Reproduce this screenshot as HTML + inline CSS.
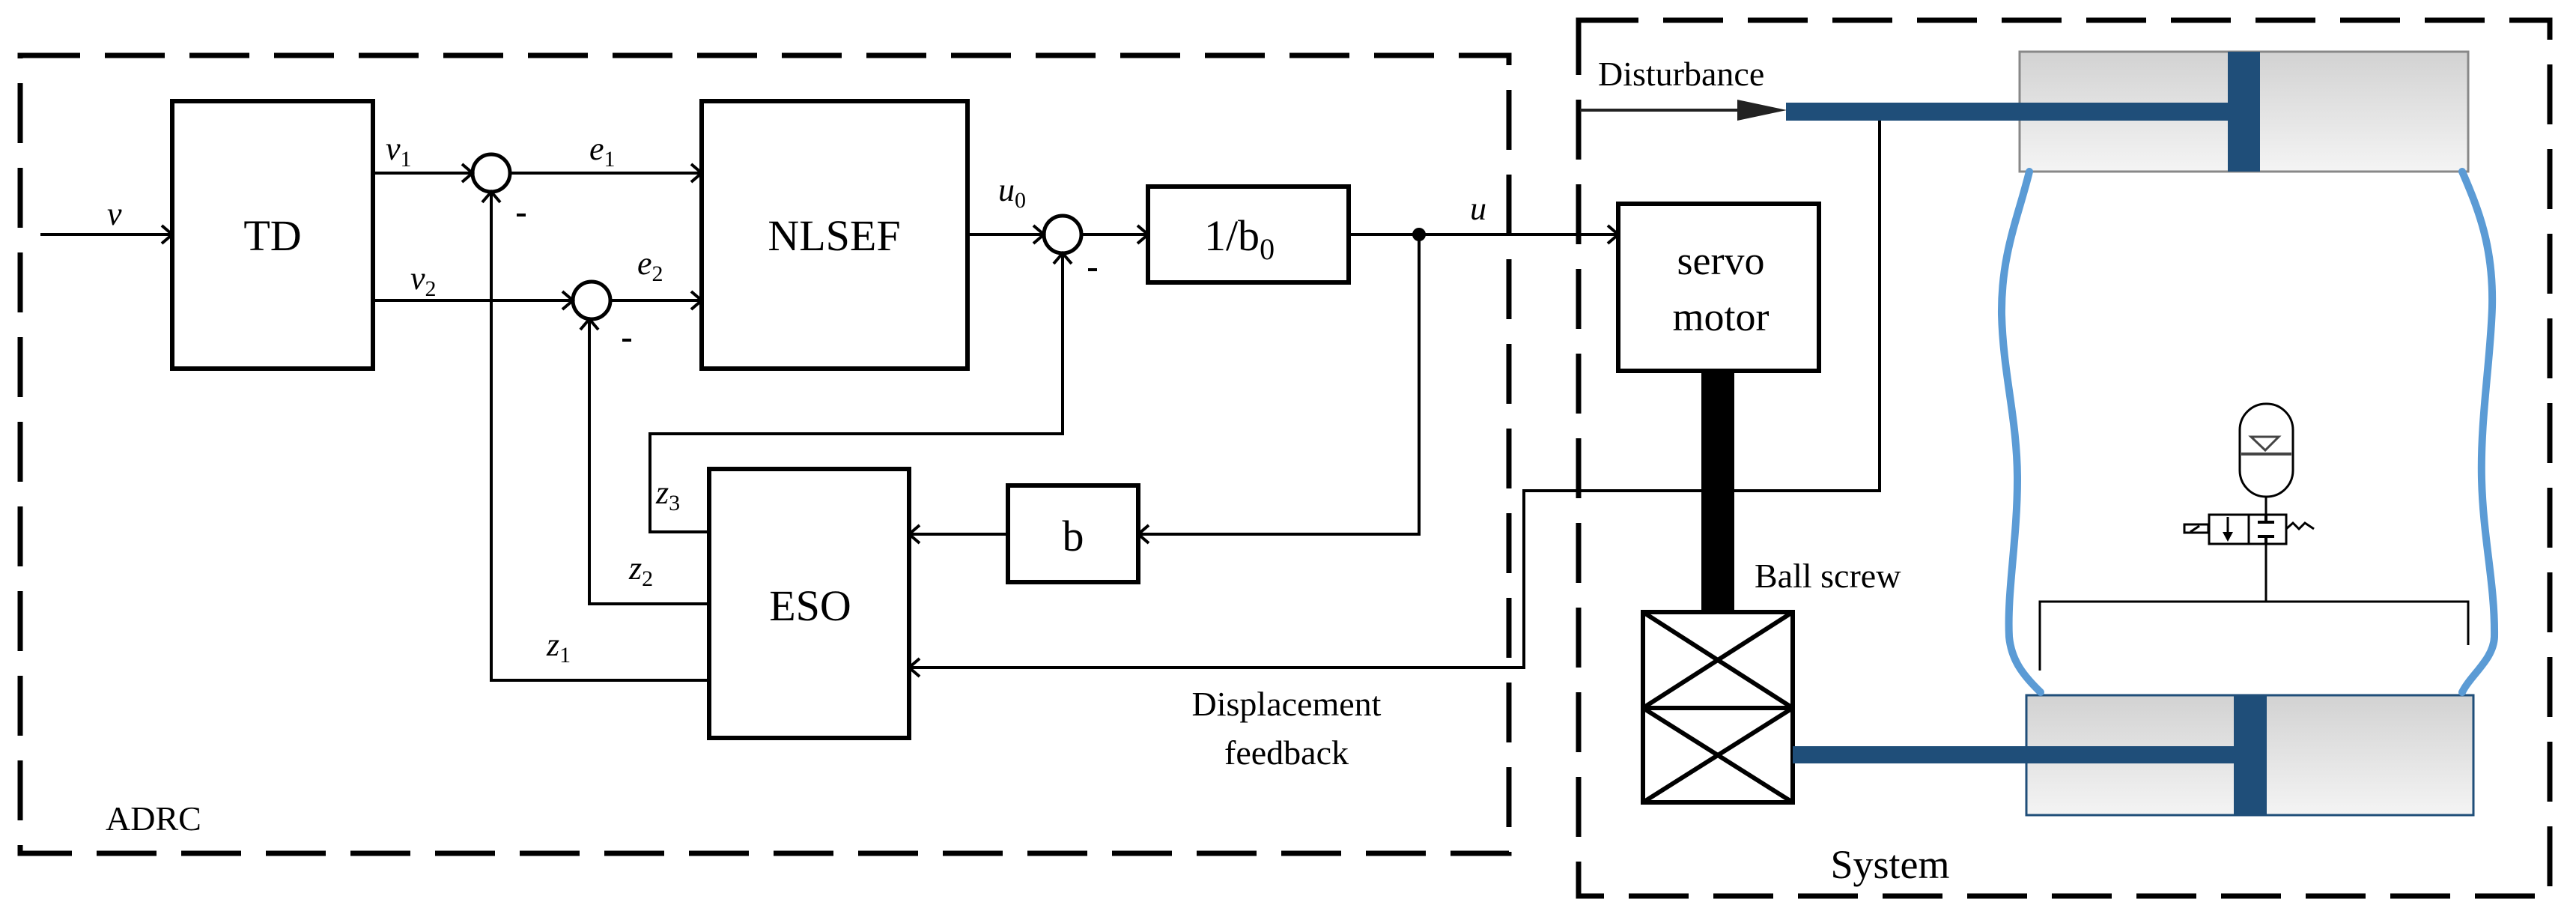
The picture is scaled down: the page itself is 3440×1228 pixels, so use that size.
<!DOCTYPE html>
<html><head><meta charset="utf-8"><style>
html,body{margin:0;padding:0;background:#fff;}
svg{display:block;}
svg text, svg tspan{font-family:"Liberation Serif","DejaVu Serif","Times New Roman",serif !important;fill:#000;}
</style></head><body>
<svg width="3440" height="1228" viewBox="0 0 3440 1228" xmlns="http://www.w3.org/2000/svg">
<defs>
<linearGradient id="g" x1="0" y1="0" x2="0" y2="1">
<stop offset="0" stop-color="#d2d2d2"/><stop offset="1" stop-color="#f4f4f4"/>
</linearGradient>
<marker id="a" markerWidth="30" markerHeight="30" refX="22" refY="15" orient="auto" markerUnits="userSpaceOnUse">
<polyline points="8,3 22,15 8,27" fill="none" stroke="#000" stroke-width="4"/>
</marker>
</defs>
<rect x="27" y="74" width="1988" height="1065" fill="none" stroke="#000" stroke-width="7" stroke-dasharray="80,33"/>
<rect x="2108" y="27" width="1297" height="1169" fill="none" stroke="#000" stroke-width="7" stroke-dasharray="80,33"/>

<g fill="none" stroke="#000" stroke-width="6">
<rect x="230" y="135" width="268" height="357"/>
<rect x="937" y="135" width="355" height="357"/>
<rect x="947" y="626" width="267" height="359"/>
<rect x="1533" y="249" width="268" height="128"/>
<rect x="1346" y="648" width="174" height="129"/>
<rect x="2161" y="272" width="268" height="223"/>
<rect x="2194" y="817" width="200" height="128"/>
<rect x="2194" y="945" width="200" height="126"/>
<path d="M2194 817L2394 945M2394 817L2194 945M2194 945L2394 1071M2394 945L2194 1071"/>
</g>
<g fill="none" stroke="#000" stroke-width="5">
<circle cx="656" cy="231" r="25"/>
<circle cx="790" cy="401" r="25"/>
<circle cx="1419" cy="313" r="25"/>
</g>
<g fill="none" stroke="#000" stroke-width="4">
<line x1="54" y1="313" x2="230" y2="313" marker-end="url(#a)"/>
<line x1="498" y1="231" x2="631" y2="231" marker-end="url(#a)"/>
<line x1="681" y1="231" x2="937" y2="231" marker-end="url(#a)"/>
<line x1="498" y1="401" x2="765" y2="401" marker-end="url(#a)"/>
<line x1="815" y1="401" x2="937" y2="401" marker-end="url(#a)"/>
<line x1="1292" y1="313" x2="1394" y2="313" marker-end="url(#a)"/>
<line x1="1444" y1="313" x2="1533" y2="313" marker-end="url(#a)"/>
<line x1="1801" y1="313" x2="2161" y2="313" marker-end="url(#a)"/>
<polyline points="947,908 656,908 656,256" marker-end="url(#a)"/>
<polyline points="947,806 787,806 787,426" marker-end="url(#a)"/>
<polyline points="947,710 868,710 868,579 1419,579 1419,338" marker-end="url(#a)"/>
<polyline points="1895,313 1895,713 1520,713" marker-end="url(#a)"/>
<line x1="1346" y1="713" x2="1214" y2="713" marker-end="url(#a)"/>
<polyline points="2510,161 2510,655 2035,655 2035,891 1214,891" marker-end="url(#a)"/>
</g>
<circle cx="1895" cy="313" r="9" fill="#000"/>
<g stroke="#000" stroke-width="4">
<line x1="690" y1="287" x2="702" y2="287"/>
<line x1="831" y1="454" x2="843" y2="454"/>
<line x1="1453" y1="360" x2="1465" y2="360"/>
</g>

<g font-size="58" text-anchor="middle">
<text x="364" y="334">TD</text>
<text x="1114" y="334">NLSEF</text>
<text x="1082" y="828">ESO</text>
<text x="1433" y="735">b</text>
<text x="1655" y="334">1/b<tspan font-size="40" dy="12">0</tspan></text>
</g>
<g font-size="54" text-anchor="middle">
<text x="2298" y="366">servo</text>
<text x="2298" y="441">motor</text>
<text x="2524" y="1172">System</text>
</g>
<g font-size="46">
<text x="1718" y="955" text-anchor="middle">Displacement</text>
<text x="1718" y="1020" text-anchor="middle">feedback</text>
<text x="141" y="1108">ADRC</text>
<text x="2134" y="114">Disturbance</text>
<text x="2343" y="784">Ball screw</text>
</g>
<g font-size="44" font-style="italic">
<text x="143" y="300">v</text>
<text x="515" y="213">v<tspan font-size="30" font-style="normal" dy="9">1</tspan></text>
<text x="548" y="386">v<tspan font-size="30" font-style="normal" dy="9">2</tspan></text>
<text x="787" y="213">e<tspan font-size="30" font-style="normal" dy="9">1</tspan></text>
<text x="851" y="366">e<tspan font-size="30" font-style="normal" dy="9">2</tspan></text>
<text x="1333" y="268">u<tspan font-size="30" font-style="normal" dy="9">0</tspan></text>
<text x="1963" y="293">u</text>
<text x="876" y="672">z<tspan font-size="30" font-style="normal" dy="9">3</tspan></text>
<text x="840" y="773">z<tspan font-size="30" font-style="normal" dy="9">2</tspan></text>
<text x="730" y="875">z<tspan font-size="30" font-style="normal" dy="9">1</tspan></text>
</g>

<line x1="2110" y1="147" x2="2325" y2="147" stroke="#222" stroke-width="4"/>
<polygon points="2320,133 2386,147 2320,161" fill="#222"/>
<rect x="2272" y="495" width="44" height="322" fill="#000"/>
<rect x="2697" y="69" width="599" height="160" fill="url(#g)" stroke="#888" stroke-width="3"/>
<rect x="2385" y="137" width="591" height="24" fill="#1f4e79"/>
<rect x="2975" y="69" width="43" height="160" fill="#1f4e79"/>
<rect x="2706" y="928" width="597" height="160" fill="url(#g)" stroke="#1f4e79" stroke-width="3"/>
<rect x="2394" y="996" width="591" height="23" fill="#1f4e79"/>
<rect x="2983" y="928" width="44" height="160" fill="#1f4e79"/>
<g fill="none" stroke="#5b9bd5" stroke-width="10" stroke-linecap="round">
<path d="M2710 229 C2695 290 2672 340 2673 420 C2675 500 2694 560 2694 640 C2694 720 2680 790 2683 850 C2686 880 2700 900 2725 924"/>
<path d="M3288 229 C3310 280 3330 330 3328 410 C3326 480 3312 560 3314 640 C3316 720 3332 780 3331 850 C3330 880 3300 900 3288 924"/>
</g>
<g fill="none" stroke="#000" stroke-width="3">
<rect x="2991" y="539" width="71" height="124" rx="35"/>
<line x1="3026" y1="663" x2="3026" y2="687"/>
<rect x="2950" y="687" width="103" height="39"/>
<line x1="3003" y1="687" x2="3003" y2="726"/>
<rect x="2917" y="700" width="32" height="11"/>
<line x1="2925" y1="710" x2="2937" y2="702"/>
<polyline points="3053,706 3062,698 3070,706 3078,698 3090,706"/>
<line x1="2975" y1="690" x2="2975" y2="712"/>
<line x1="3026" y1="726" x2="3026" y2="803"/>
<polyline points="2724,895 2724,803 3296,803 3296,861"/>
</g>
<polygon points="2968,710 2982,710 2975,723" fill="#000"/>
<g stroke="#000" stroke-width="4"><line x1="3015" y1="697" x2="3037" y2="697"/><line x1="3015" y1="716" x2="3037" y2="716"/><line x1="3026" y1="687" x2="3026" y2="697"/><line x1="3026" y1="716" x2="3026" y2="726"/></g>
<line x1="2993" y1="606" x2="3060" y2="606" stroke="#444" stroke-width="4"/>
<polygon points="3006,583 3043,583 3025,601" fill="none" stroke="#444" stroke-width="3"/>
</svg>
</body></html>
